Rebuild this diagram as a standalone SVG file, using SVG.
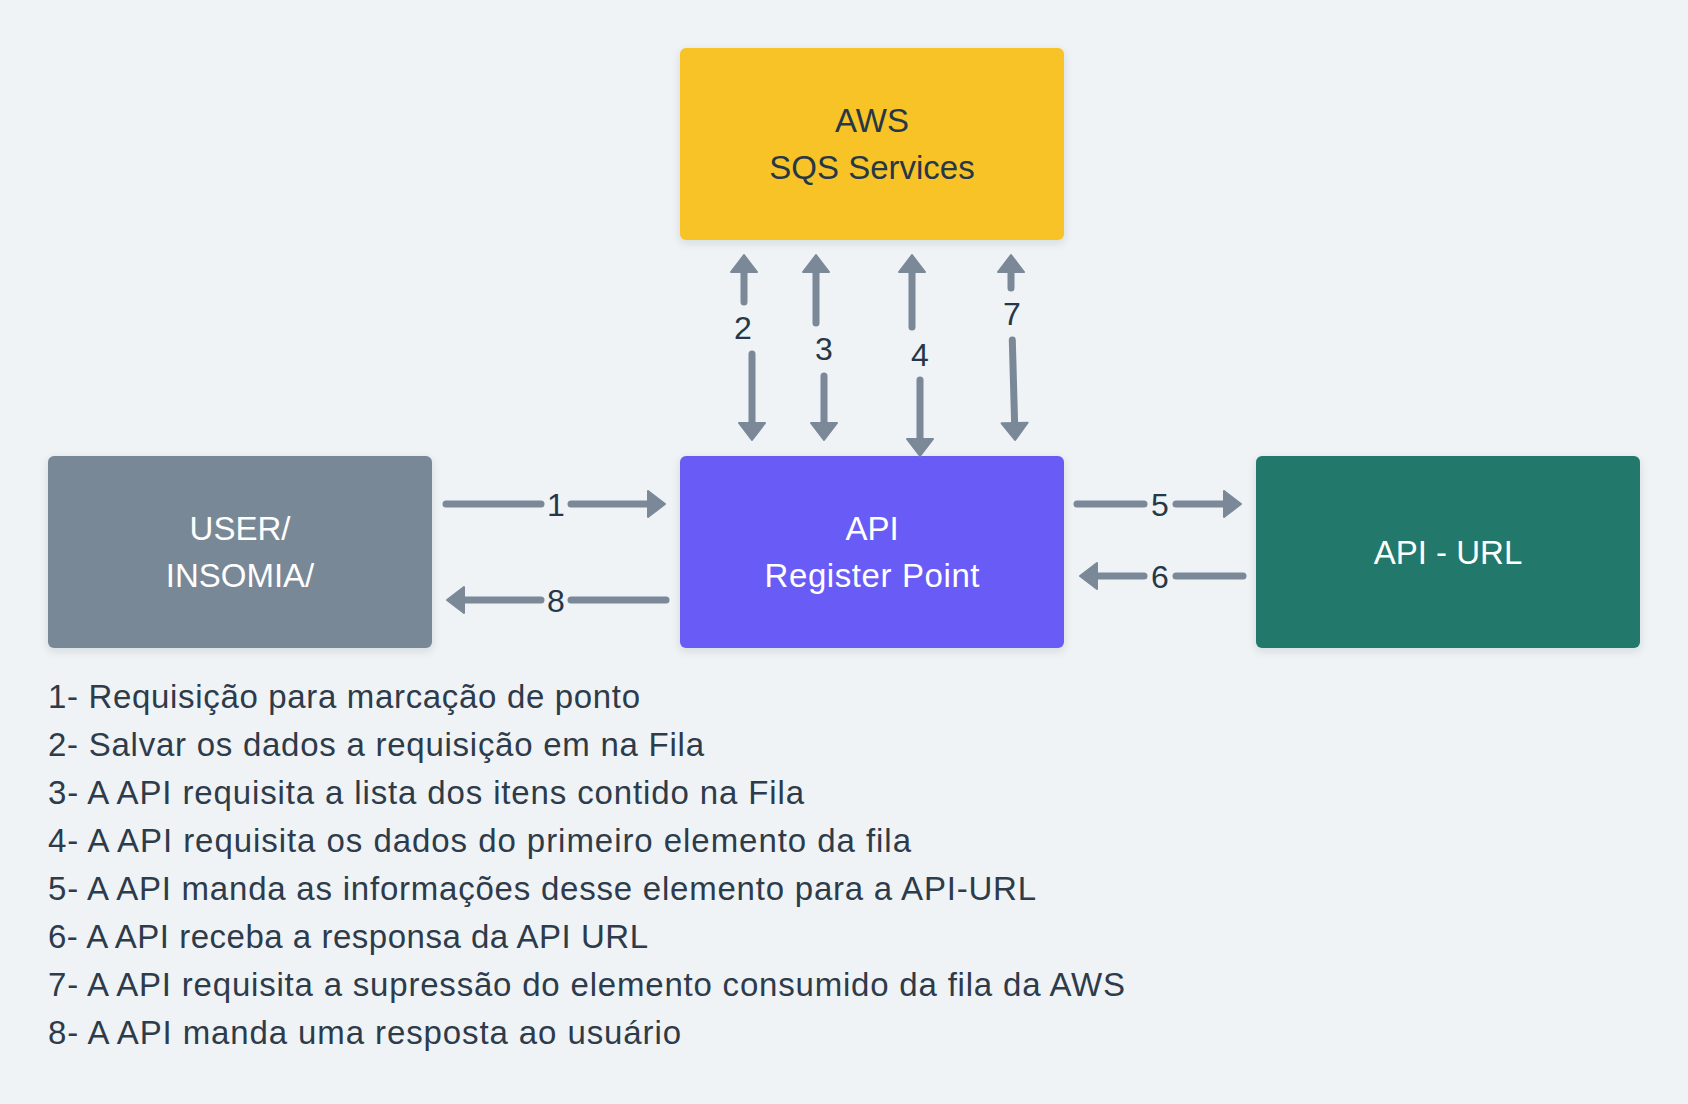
<svg xmlns="http://www.w3.org/2000/svg" width="1688" height="1104" viewBox="0 0 1688 1104">
<style>
.node-text{font-family:"Liberation Sans",Arial,sans-serif;font-size:33px;text-anchor:middle}
.dark{fill:#263747}
.light{fill:#ffffff}
.lbl{font-family:"Liberation Sans",Arial,sans-serif;font-size:32px;text-anchor:middle;fill:#263747}
.list{font-family:"Liberation Sans",Arial,sans-serif;font-size:33px;fill:#2d3b4a}
.conn{stroke:#7a8898;stroke-width:7;stroke-linecap:round;fill:none}
</style>
<defs>
<filter id="sh" x="-10%" y="-10%" width="120%" height="130%">
<feDropShadow dx="0" dy="3" stdDeviation="4" flood-color="#1e2a3a" flood-opacity="0.12"/>
</filter>
<marker id="ah" markerUnits="userSpaceOnUse" viewBox="-2 -2 22 30" markerWidth="22" markerHeight="30" refX="0" refY="13" orient="auto">
<path d="M0 0 L17 13 L0 26 Z" fill="#7a8898" stroke="#7a8898" stroke-width="2" stroke-linejoin="round"/>
</marker>
</defs>
<rect width="1688" height="1104" fill="#eff3f6"/>

<g id="aws">
<rect x="680" y="48" width="384" height="192" rx="6" fill="#f7c325" filter="url(#sh)"/>
<text class="node-text dark" x="872" y="132">AWS</text>
<text class="node-text dark" x="872" y="179">SQS Services</text>
</g>
<g id="user">
<rect x="48" y="456" width="384" height="192" rx="6" fill="#798896" filter="url(#sh)"/>
<text class="node-text light" x="240" y="540">USER/</text>
<text class="node-text light" x="240" y="587">INSOMIA/</text>
</g>
<g id="api">
<rect x="680" y="456" width="384" height="192" rx="6" fill="#695cf6" filter="url(#sh)"/>
<text class="node-text light" x="872" y="540">API</text>
<text class="node-text light" x="872" y="587" textLength="215" lengthAdjust="spacing">Register Point</text>
</g>
<g id="apiurl">
<rect x="1256" y="456" width="384" height="192" rx="6" fill="#20786a" filter="url(#sh)"/>
<text class="node-text light" x="1448" y="564">API - URL</text>
</g>

<g id="connectors">
<line class="conn" x1="446" y1="504" x2="541" y2="504"/>
<line class="conn" x1="571" y1="504" x2="648" y2="504" marker-end="url(#ah)"/>
<text class="lbl" x="556" y="516">1</text>

<line class="conn" x1="666" y1="600" x2="571" y2="600"/>
<line class="conn" x1="541" y1="600" x2="464" y2="600" marker-end="url(#ah)"/>
<text class="lbl" x="556" y="612">8</text>

<line class="conn" x1="1077" y1="504" x2="1144" y2="504"/>
<line class="conn" x1="1176" y1="504" x2="1224" y2="504" marker-end="url(#ah)"/>
<text class="lbl" x="1160" y="516">5</text>

<line class="conn" x1="1243" y1="576" x2="1176" y2="576"/>
<line class="conn" x1="1144" y1="576" x2="1097" y2="576" marker-end="url(#ah)"/>
<text class="lbl" x="1160" y="588">6</text>

<line class="conn" x1="744" y1="302" x2="744" y2="272" marker-end="url(#ah)"/>
<line class="conn" x1="752" y1="354" x2="752" y2="423" marker-end="url(#ah)"/>
<text class="lbl" x="743" y="339">2</text>

<line class="conn" x1="816" y1="323" x2="816" y2="272" marker-end="url(#ah)"/>
<line class="conn" x1="824" y1="376" x2="824" y2="423" marker-end="url(#ah)"/>
<text class="lbl" x="824" y="360">3</text>

<line class="conn" x1="912" y1="327" x2="912" y2="272" marker-end="url(#ah)"/>
<line class="conn" x1="920" y1="380" x2="920" y2="439" marker-end="url(#ah)"/>
<text class="lbl" x="920" y="366">4</text>

<line class="conn" x1="1011" y1="288" x2="1011" y2="272" marker-end="url(#ah)"/>
<line class="conn" x1="1012.3" y1="340" x2="1014.6" y2="423" marker-end="url(#ah)"/>
<text class="lbl" x="1012" y="325">7</text>
</g>

<g id="legend">
<text class="list" x="48" y="708" textLength="592" lengthAdjust="spacing">1- Requisição para marcação de ponto</text>
<text class="list" x="48" y="756" textLength="656" lengthAdjust="spacing">2- Salvar os dados a requisição em na Fila</text>
<text class="list" x="48" y="804" textLength="756" lengthAdjust="spacing">3- A API requisita a lista dos itens contido na Fila</text>
<text class="list" x="48" y="852" textLength="863" lengthAdjust="spacing">4- A API requisita os dados do primeiro elemento da fila</text>
<text class="list" x="48" y="900" textLength="988" lengthAdjust="spacing">5- A API manda as informações desse elemento para a API-URL</text>
<text class="list" x="48" y="948" textLength="600" lengthAdjust="spacing">6- A API receba a responsa da API URL</text>
<text class="list" x="48" y="996" textLength="1077" lengthAdjust="spacing">7- A API requisita a supressão do elemento consumido da fila da AWS</text>
<text class="list" x="48" y="1044" textLength="633" lengthAdjust="spacing">8- A API manda uma resposta ao usuário</text>
</g>
</svg>
